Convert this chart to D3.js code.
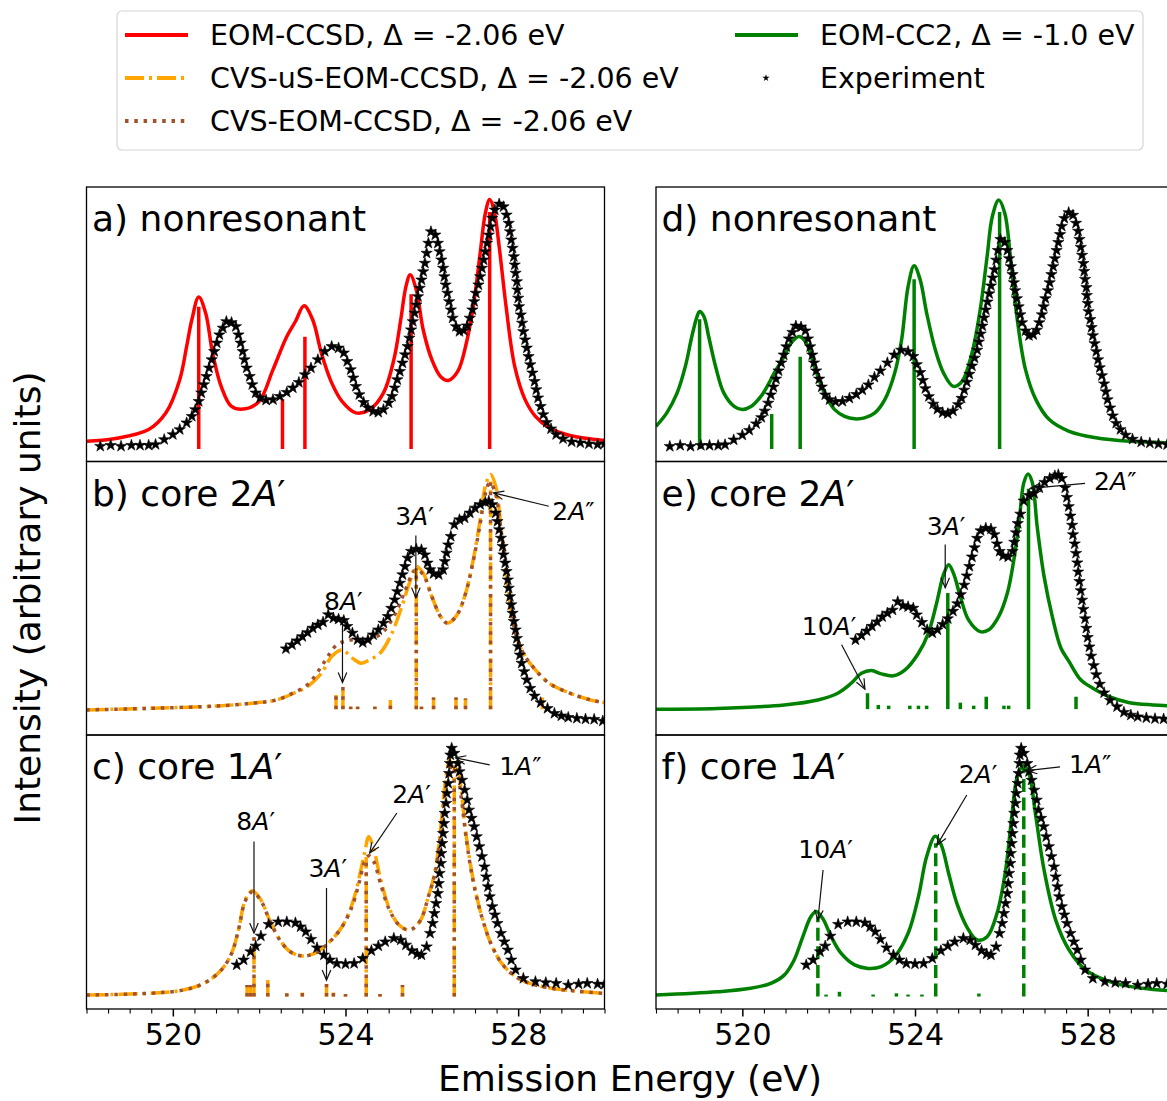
<!DOCTYPE html>
<html>
<head>
<meta charset="utf-8">
<script src="https://cdn.jsdelivr.net/npm/d3@7"></script>
<style>
  body { margin: 0; background: #fff; }
  svg { display: block; font-family: "DejaVu Sans", sans-serif; }
</style>
</head>
<body>
<svg id="chart" width="1167" height="1101"></svg>
<script>
// ---------- data (emission energy in eV, normalised intensity) ----------
const energyTicks = [520, 524, 528];
const minorStep = 0.5;

// nonresonant
const ccsdNonresCurve = [[518.0,0.031],[518.64,0.041],[519.44,0.078],[519.84,0.145],[520.16,0.278],[520.32,0.411],[520.44,0.518],[520.6,0.609],[520.76,0.545],[520.92,0.385],[521.12,0.251],[521.36,0.171],[521.68,0.161],[522.0,0.191],[522.32,0.318],[522.64,0.451],[522.84,0.511],[523.04,0.574],[523.24,0.518],[523.44,0.385],[523.68,0.265],[523.92,0.191],[524.24,0.145],[524.56,0.158],[524.88,0.225],[525.12,0.358],[525.28,0.518],[525.4,0.651],[525.5,0.698],[525.64,0.638],[525.8,0.478],[526.0,0.358],[526.2,0.291],[526.38,0.275],[526.6,0.311],[526.8,0.425],[526.96,0.571],[527.12,0.785],[527.24,0.945],[527.34,1.0],[527.44,0.958],[527.56,0.811],[527.72,0.571],[527.92,0.331],[528.16,0.198],[528.4,0.131],[528.72,0.085],[529.2,0.054],[530.0,0.034]];
const ccsdNonresSticks = [[520.6,0.57],[522.54,0.20],[523.06,0.45],[525.52,0.62],[527.34,0.95]];

const cc2NonresCurve = [[518.0,0.091],[518.25,0.145],[518.49,0.225],[518.68,0.331],[518.83,0.451],[518.95,0.531],[519.01,0.551],[519.11,0.531],[519.22,0.451],[519.38,0.331],[519.57,0.225],[519.81,0.171],[520.0,0.158],[520.19,0.169],[520.43,0.211],[520.62,0.265],[520.74,0.305],[520.97,0.371],[521.13,0.425],[521.32,0.451],[521.48,0.425],[521.67,0.331],[521.9,0.225],[522.14,0.158],[522.37,0.131],[522.6,0.121],[522.83,0.125],[523.07,0.145],[523.3,0.198],[523.53,0.305],[523.69,0.438],[523.84,0.651],[523.98,0.734],[524.12,0.678],[524.27,0.545],[524.47,0.398],[524.66,0.305],[524.89,0.251],[525.09,0.271],[525.32,0.385],[525.51,0.558],[525.67,0.771],[525.79,0.931],[525.94,0.998],[526.08,0.945],[526.21,0.771],[526.37,0.518],[526.56,0.318],[526.8,0.198],[527.11,0.118],[527.57,0.071],[528.19,0.045],[528.97,0.031],[529.86,0.025],[530.0,0.024]];
const cc2NonresSticks = [[519.01,0.52],[520.68,0.14],[521.34,0.37],[523.98,0.68],[525.96,0.95]];

const expNonres = [[518.32,0.011],[518.56,0.015],[518.80,0.011],[519.04,0.015],[519.24,0.015],[519.44,0.015],[519.60,0.018],[519.80,0.038],[520.00,0.058],[520.16,0.078],[520.32,0.105],[520.44,0.131],[520.52,0.158],[520.60,0.191],[520.66,0.225],[520.72,0.258],[520.78,0.291],[520.84,0.325],[520.90,0.358],[520.96,0.391],[521.02,0.425],[521.08,0.458],[521.16,0.485],[521.24,0.511],[521.36,0.507],[521.46,0.491],[521.52,0.458],[521.57,0.425],[521.62,0.391],[521.66,0.358],[521.71,0.325],[521.78,0.291],[521.84,0.258],[521.92,0.225],[522.02,0.205],[522.16,0.196],[522.32,0.198],[522.48,0.211],[522.64,0.227],[522.78,0.245],[522.92,0.267],[523.06,0.298],[523.20,0.325],[523.36,0.358],[523.52,0.391],[523.68,0.411],[523.84,0.405],[523.96,0.385],[524.04,0.351],[524.12,0.318],[524.18,0.285],[524.24,0.251],[524.32,0.218],[524.42,0.187],[524.52,0.165],[524.64,0.151],[524.76,0.147],[524.88,0.158],[525.00,0.185],[525.08,0.211],[525.14,0.245],[525.20,0.278],[525.26,0.311],[525.32,0.345],[525.38,0.378],[525.44,0.411],[525.48,0.445],[525.52,0.478],[525.56,0.511],[525.60,0.545],[525.64,0.578],[525.68,0.611],[525.72,0.645],[525.76,0.678],[525.80,0.711],[525.84,0.745],[525.88,0.785],[525.92,0.825],[525.98,0.871],[526.08,0.858],[526.14,0.825],[526.18,0.791],[526.22,0.758],[526.26,0.725],[526.29,0.691],[526.32,0.658],[526.36,0.625],[526.40,0.591],[526.44,0.558],[526.48,0.525],[526.56,0.491],[526.64,0.471],[526.74,0.475],[526.82,0.494],[526.88,0.525],[526.94,0.558],[526.98,0.591],[527.02,0.625],[527.08,0.658],[527.12,0.691],[527.16,0.725],[527.20,0.758],[527.24,0.791],[527.28,0.825],[527.32,0.858],[527.36,0.891],[527.40,0.925],[527.46,0.958],[527.56,0.982],[527.66,0.971],[527.73,0.938],[527.78,0.905],[527.81,0.871],[527.84,0.838],[527.87,0.805],[527.90,0.771],[527.92,0.738],[527.94,0.705],[527.97,0.671],[527.98,0.638],[528.00,0.605],[528.02,0.571],[528.06,0.538],[528.09,0.505],[528.12,0.471],[528.16,0.438],[528.20,0.405],[528.24,0.371],[528.28,0.338],[528.33,0.305],[528.38,0.271],[528.42,0.238],[528.46,0.205],[528.52,0.171],[528.58,0.138],[528.66,0.107],[528.76,0.081],[528.88,0.058],[529.04,0.041],[529.24,0.029],[529.44,0.025],[529.64,0.021],[529.84,0.018],[530.00,0.021]];

// core 2A'
const usCore2Curve = [[518.0,0.051],[519.44,0.057],[521.04,0.067],[521.84,0.078],[522.40,0.091],[522.80,0.118],[523.12,0.145],[523.44,0.198],[523.68,0.266],[523.92,0.292],[524.16,0.259],[524.36,0.239],[524.56,0.252],[524.80,0.279],[525.04,0.346],[525.28,0.454],[525.48,0.561],[525.64,0.628],[525.80,0.601],[526.00,0.507],[526.20,0.427],[526.36,0.400],[526.56,0.427],[526.76,0.507],[526.96,0.655],[527.12,0.816],[527.24,0.951],[527.36,0.998],[527.48,0.951],[527.60,0.789],[527.76,0.548],[527.92,0.373],[528.12,0.279],[528.40,0.212],[528.72,0.158],[529.20,0.118],[529.68,0.091],[530.0,0.080]];
const cvsCore2Curve = [[518.0,0.051],[519.44,0.057],[521.04,0.067],[521.84,0.078],[522.40,0.091],[522.80,0.120],[523.12,0.152],[523.44,0.225],[523.64,0.279],[523.80,0.313],[523.96,0.326],[524.16,0.333],[524.40,0.330],[524.64,0.339],[524.88,0.366],[525.12,0.427],[525.36,0.521],[525.52,0.588],[525.64,0.615],[525.80,0.595],[526.00,0.507],[526.20,0.427],[526.36,0.400],[526.56,0.427],[526.76,0.507],[526.96,0.650],[527.12,0.800],[527.24,0.920],[527.34,0.965],[527.46,0.930],[527.60,0.780],[527.76,0.548],[527.92,0.373],[528.12,0.279],[528.40,0.212],[528.72,0.158],[529.20,0.118],[529.68,0.091],[530.0,0.080]];
const usCore2Sticks = [[523.78,0.111],[523.94,0.145],[524.12,0.064],[524.28,0.064],[524.68,0.064],[525.04,0.091],[525.64,0.62],[525.76,0.064],[526.04,0.101],[526.56,0.101],[526.78,0.097],[527.36,0.97],[528.56,0.101]];
const cvsCore2Sticks = [[523.78,0.111],[523.94,0.145],[524.12,0.064],[524.28,0.064],[524.68,0.064],[525.04,0.091],[525.64,0.62],[525.76,0.064],[526.04,0.101],[526.56,0.101],[526.78,0.097],[527.36,0.97]];

const cc2Core2Curve = [[518.0,0.054],[519.42,0.057],[520.97,0.071],[521.75,0.091],[522.21,0.118],[522.52,0.158],[522.76,0.198],[522.99,0.209],[523.22,0.196],[523.50,0.188],[523.77,0.212],[524.08,0.279],[524.31,0.360],[524.50,0.480],[524.66,0.595],[524.78,0.635],[524.89,0.601],[525.05,0.507],[525.24,0.413],[525.51,0.366],[525.71,0.373],[525.94,0.427],[526.14,0.521],[526.29,0.655],[526.41,0.803],[526.52,0.964],[526.62,1.0],[526.72,0.964],[526.83,0.789],[526.99,0.588],[527.18,0.427],[527.38,0.300],[527.57,0.245],[527.84,0.172],[528.12,0.138],[528.50,0.104],[528.97,0.080],[529.51,0.071],[530.0,0.067]];
const cc2Core2Sticks = [[522.90,0.118],[523.15,0.071],[523.39,0.068],[523.88,0.068],[524.08,0.068],[524.27,0.068],[524.76,0.521],[525.05,0.080],[525.36,0.068],[525.65,0.104],[526.06,0.068],[526.17,0.068],[526.63,0.94],[527.73,0.104]];

const expCore2 = [[522.62,0.297],[522.76,0.313],[522.88,0.329],[523.00,0.346],[523.12,0.362],[523.24,0.380],[523.36,0.393],[523.48,0.404],[523.60,0.434],[523.72,0.420],[523.84,0.416],[523.96,0.411],[524.04,0.387],[524.16,0.360],[524.28,0.333],[524.40,0.322],[524.52,0.333],[524.64,0.353],[524.76,0.373],[524.88,0.400],[524.98,0.427],[525.06,0.460],[525.14,0.494],[525.20,0.527],[525.26,0.561],[525.32,0.595],[525.38,0.628],[525.44,0.662],[525.52,0.689],[525.64,0.698],[525.76,0.695],[525.84,0.675],[525.90,0.642],[525.96,0.615],[526.04,0.599],[526.16,0.595],[526.26,0.615],[526.30,0.648],[526.34,0.682],[526.38,0.715],[526.44,0.749],[526.52,0.796],[526.64,0.816],[526.76,0.823],[526.88,0.843],[527.00,0.863],[527.12,0.877],[527.24,0.886],[527.32,0.890],[527.40,0.877],[527.48,0.843],[527.52,0.809],[527.56,0.776],[527.60,0.742],[527.64,0.709],[527.66,0.675],[527.70,0.642],[527.73,0.608],[527.76,0.574],[527.78,0.541],[527.81,0.507],[527.84,0.474],[527.87,0.440],[527.90,0.407],[527.94,0.373],[527.97,0.339],[528.00,0.306],[528.04,0.272],[528.08,0.239],[528.14,0.205],[528.20,0.172],[528.28,0.138],[528.38,0.107],[528.52,0.080],[528.68,0.057],[528.84,0.037],[529.00,0.027],[529.16,0.021],[529.36,0.017],[529.56,0.014],[529.76,0.013],[529.96,0.006]];

// core 1A'
const usCore1Curve = [[518.0,0.006],[519.44,0.013],[520.24,0.026],[520.72,0.053],[521.12,0.106],[521.36,0.173],[521.52,0.267],[521.68,0.388],[521.84,0.425],[522.04,0.388],[522.24,0.307],[522.48,0.227],[522.72,0.180],[523.00,0.163],[523.28,0.173],[523.60,0.214],[523.92,0.280],[524.16,0.374],[524.32,0.481],[524.44,0.575],[524.54,0.642],[524.66,0.588],[524.80,0.481],[525.00,0.361],[525.24,0.287],[525.48,0.267],[525.72,0.301],[525.92,0.401],[526.08,0.508],[526.20,0.669],[526.30,0.843],[526.40,0.950],[526.48,0.977],[526.58,0.950],[526.68,0.830],[526.80,0.642],[526.96,0.468],[527.16,0.321],[527.40,0.200],[527.68,0.120],[528.08,0.066],[528.64,0.037],[529.28,0.023],[530.0,0.013]];
const cvsCore1Curve = [[518.0,0.006],[519.44,0.013],[520.24,0.026],[520.72,0.053],[521.12,0.106],[521.36,0.173],[521.52,0.267],[521.68,0.385],[521.84,0.420],[522.04,0.385],[522.24,0.307],[522.48,0.227],[522.72,0.180],[523.00,0.163],[523.28,0.173],[523.60,0.214],[523.92,0.280],[524.16,0.365],[524.32,0.460],[524.44,0.540],[524.54,0.565],[524.66,0.540],[524.80,0.460],[525.00,0.355],[525.24,0.287],[525.48,0.267],[525.72,0.301],[525.92,0.401],[526.08,0.500],[526.20,0.650],[526.30,0.810],[526.40,0.905],[526.48,0.930],[526.58,0.905],[526.68,0.800],[526.80,0.630],[526.96,0.460],[527.16,0.318],[527.40,0.200],[527.68,0.120],[528.08,0.066],[528.64,0.037],[529.28,0.023],[530.0,0.013]];
const core1Sticks = [[521.72,0.046],[521.80,0.046],[521.88,0.24],[522.20,0.066],[522.64,0.013],[523.00,0.016],[523.56,0.05],[523.72,0.016],[524.00,0.01],[524.48,0.56],[524.80,0.01],[525.32,0.046],[526.52,0.93]];

const cc2Core1Curve = [[518.0,0.006],[519.42,0.019],[520.19,0.033],[520.66,0.053],[520.97,0.086],[521.20,0.147],[521.40,0.240],[521.59,0.321],[521.71,0.341],[521.86,0.314],[522.06,0.240],[522.29,0.173],[522.60,0.127],[522.91,0.113],[523.22,0.120],[523.53,0.160],[523.84,0.254],[524.08,0.401],[524.27,0.562],[524.47,0.644],[524.61,0.608],[524.78,0.494],[524.97,0.374],[525.20,0.280],[525.44,0.227],[525.67,0.240],[525.90,0.334],[526.10,0.508],[526.25,0.736],[526.37,0.883],[526.52,0.930],[526.64,0.896],[526.80,0.722],[526.99,0.508],[527.26,0.307],[527.57,0.187],[527.96,0.106],[528.58,0.056],[529.28,0.033],[530.0,0.022]];
const cc2Core1Sticks = [[521.75,0.32],[521.94,0.008],[522.25,0.019],[523.03,0.008],[523.57,0.013],[523.84,0.008],[524.16,0.008],[524.48,0.615],[525.48,0.012],[526.52,0.92]];

const expCore1 = [[521.48,0.127],[521.64,0.147],[521.80,0.180],[521.92,0.203],[522.04,0.243],[522.22,0.290],[522.44,0.300],[522.64,0.300],[522.84,0.296],[522.96,0.280],[523.08,0.260],[523.20,0.230],[523.34,0.196],[523.50,0.167],[523.64,0.147],[523.80,0.133],[524.00,0.131],[524.20,0.133],[524.40,0.153],[524.60,0.184],[524.76,0.203],[524.92,0.220],[525.12,0.234],[525.28,0.227],[525.40,0.207],[525.54,0.184],[525.66,0.171],[525.76,0.167],[525.88,0.200],[525.96,0.254],[526.02,0.294],[526.06,0.334],[526.10,0.374],[526.14,0.414],[526.16,0.454],[526.18,0.495],[526.21,0.535],[526.22,0.575],[526.24,0.615],[526.26,0.655],[526.28,0.695],[526.30,0.736],[526.33,0.776],[526.35,0.816],[526.38,0.856],[526.40,0.896],[526.42,0.936],[526.43,0.970],[526.46,0.997],[526.52,0.977],[526.60,0.936],[526.64,0.903],[526.70,0.869],[526.76,0.829],[526.82,0.789],[526.86,0.749],[526.92,0.716],[526.98,0.682],[527.04,0.642],[527.10,0.602],[527.16,0.562],[527.22,0.521],[527.26,0.481],[527.30,0.441],[527.34,0.401],[527.40,0.361],[527.46,0.328],[527.52,0.294],[527.60,0.254],[527.68,0.220],[527.76,0.187],[527.84,0.147],[527.94,0.107],[528.12,0.073],[528.40,0.060],[528.64,0.056],[528.88,0.053],[529.16,0.046],[529.40,0.050],[529.60,0.053],[529.84,0.050],[530.00,0.049]];

// peak assignments: text position (tx, ty), arrow tail (sx, sy) and head (ex, ey)
const core2Notes = [
  {label: "8A′", tx: 523.95, ty: 0.454, sx: 523.93, sy: 0.413, ex: 523.93, ey: 0.161},
  {label: "3A′", tx: 525.60, ty: 0.796, sx: 525.63, sy: 0.752, ex: 525.63, ey: 0.502},
  {label: "2A″", tx: 529.28, ty: 0.816, sx: 528.71, sy: 0.870, ex: 527.43, ey: 0.924}
];
const core1Notes = [
  {label: "8A′", tx: 521.92, ty: 0.669, sx: 521.88, sy: 0.622, ex: 521.88, ey: 0.255},
  {label: "3A′", tx: 523.59, ty: 0.480, sx: 523.56, sy: 0.436, ex: 523.56, ey: 0.066},
  {label: "2A′", tx: 525.53, ty: 0.777, sx: 525.19, sy: 0.737, ex: 524.56, ey: 0.576},
  {label: "1A″", tx: 528.05, ty: 0.890, sx: 527.34, sy: 0.930, ex: 526.55, ey: 0.958}
];
const cc2Core2Notes = [
  {label: "10A′", tx: 522.01, ty: 0.353, sx: 522.30, sy: 0.313, ex: 522.84, ey: 0.134},
  {label: "3A′", tx: 524.72, ty: 0.756, sx: 524.70, sy: 0.716, ex: 524.70, ey: 0.542},
  {label: "2A″", tx: 528.64, ty: 0.937, sx: 527.94, sy: 0.962, ex: 526.67, ey: 0.942}
];
const cc2Core1Notes = [
  {label: "10A′", tx: 521.93, ty: 0.556, sx: 521.87, sy: 0.508, ex: 521.75, ey: 0.307},
  {label: "2A′", tx: 525.46, ty: 0.857, sx: 525.20, sy: 0.809, ex: 524.51, ey: 0.608},
  {label: "1A″", tx: 528.06, ty: 0.898, sx: 527.36, sy: 0.922, ex: 526.59, ey: 0.907}
];

const legendLabels = ["EOM-CCSD, Δ = -2.06 eV", "CVS-uS-EOM-CCSD, Δ = -2.06 eV", "CVS-EOM-CCSD, Δ = -2.06 eV", "EOM-CC2, Δ = -1.0 eV", "Experiment"];

// ---------- styles ----------
const RED = "#ff0000", ORANGE = "#ffa500", BROWN = "#a0522d", GREEN = "#008000";
const LW = 3.5;
const DASHDOT = "19,5,3,5", DOTTED = "3.5,5.8", DASHED = "13,5.6";

const cols = [{x0: 86.5, x1: 604.5}, {x0: 656, x1: 1174}];
const rows = [{y0: 187, y1: 461.5}, {y0: 461.5, y1: 735}, {y0: 735, y1: 1009}];
const xDomain = [518, 530];
const yDomain = [-0.05, 1.05];

const panels = [
  {col: 0, row: 0, title: "a) nonresonant",
   curves: [{data: ccsdNonresCurve, color: RED, dash: null}],
   sticks: [{data: ccsdNonresSticks, base: 0, color: RED, dash: null}],
   exp: expNonres, expScale: 1, notes: []},
  {col: 0, row: 1, title: "b) core 2A′",
   curves: [{data: usCore2Curve, color: ORANGE, dash: DASHDOT}, {data: cvsCore2Curve, color: BROWN, dash: DOTTED}],
   sticks: [{data: usCore2Sticks, base: 0.054, color: ORANGE, dash: DASHDOT}, {data: cvsCore2Sticks, base: 0.054, color: BROWN, dash: DOTTED}],
   exp: expCore2, expScale: 1, notes: core2Notes},
  {col: 0, row: 2, title: "c) core 1A′",
   curves: [{data: usCore1Curve, color: ORANGE, dash: DASHDOT}, {data: cvsCore1Curve, color: BROWN, dash: DOTTED}],
   sticks: [{data: core1Sticks, base: 0, color: ORANGE, dash: DASHDOT}, {data: core1Sticks, base: 0, color: BROWN, dash: DOTTED}],
   exp: expCore1, expScale: 1, notes: core1Notes},
  {col: 1, row: 0, title: "d) nonresonant",
   curves: [{data: cc2NonresCurve, color: GREEN, dash: null}],
   sticks: [{data: cc2NonresSticks, base: 0, color: GREEN, dash: null}],
   exp: expNonres, expScale: 0.965, notes: []},
  {col: 1, row: 1, title: "e) core 2A′",
   curves: [{data: cc2Core2Curve, color: GREEN, dash: null}],
   sticks: [{data: cc2Core2Sticks, base: 0.054, color: GREEN, dash: null}],
   exp: expCore2, expScale: 1.12, notes: cc2Core2Notes},
  {col: 1, row: 2, title: "f) core 1A′",
   curves: [{data: cc2Core1Curve, color: GREEN, dash: null}],
   sticks: [{data: cc2Core1Sticks, base: 0, color: GREEN, dash: DASHED}],
   exp: expCore1, expScale: 1, notes: cc2Core1Notes}
];

const svg = d3.select("#chart");
const starPath = d3.symbol().type(d3.symbolStar).size(40)();

// writes a label, setting the symmetry letter A in italics
function richText(sel, str) {
  for (const ch of str) {
    sel.append("tspan").text(ch).attr("font-style", ch === "A" ? "italic" : null);
  }
}

panels.forEach((p, i) => {
  const c = cols[p.col], r = rows[p.row];
  const x = d3.scaleLinear().domain(xDomain).range([c.x0, c.x1]);
  const y = d3.scaleLinear().domain(yDomain).range([r.y1, r.y0]);
  const g = svg.append("g");

  const clipId = "clip-" + i;
  svg.append("clipPath").attr("id", clipId).append("rect")
    .attr("x", c.x0).attr("y", r.y0).attr("width", c.x1 - c.x0).attr("height", r.y1 - r.y0);
  const plot = g.append("g").attr("clip-path", `url(#${clipId})`);

  const line = d3.line().x(d => x(d[0])).y(d => y(d[1])).curve(d3.curveCatmullRom.alpha(0.5));

  p.curves.forEach(cv => {
    plot.append("path").attr("d", line(cv.data))
      .attr("fill", "none").attr("stroke", cv.color).attr("stroke-width", LW)
      .attr("stroke-dasharray", cv.dash).attr("stroke-linejoin", "round");
  });

  p.sticks.forEach(st => {
    plot.append("g").selectAll("line").data(st.data).join("line")
      .attr("x1", d => x(d[0])).attr("x2", d => x(d[0]))
      .attr("y1", y(st.base)).attr("y2", d => y(d[1]))
      .attr("stroke", st.color).attr("stroke-width", LW)
      .attr("stroke-dasharray", st.dash);
  });

  plot.append("g").selectAll("path").data(p.exp).join("path")
    .attr("d", starPath)
    .attr("transform", d => `translate(${x(d[0])},${y(d[1] * p.expScale)})`)
    .attr("fill", "#000").attr("stroke", "#000").attr("stroke-width", 0.6);

  // assignments with arrows
  p.notes.forEach(n => {
    const sx = x(n.sx), sy = y(n.sy), ex = x(n.ex), ey = y(n.ey);
    g.append("line").attr("x1", sx).attr("y1", sy).attr("x2", ex).attr("y2", ey)
      .attr("stroke", "#111").attr("stroke-width", 1.2);
    const ang = Math.atan2(ey - sy, ex - sx), hl = 11, ha = 0.4;
    g.append("path")
      .attr("d", `M${ex - hl * Math.cos(ang - ha)},${ey - hl * Math.sin(ang - ha)}L${ex},${ey}L${ex - hl * Math.cos(ang + ha)},${ey - hl * Math.sin(ang + ha)}`)
      .attr("fill", "none").attr("stroke", "#111").attr("stroke-width", 1.2);
    const t = g.append("text").attr("x", x(n.tx)).attr("y", y(n.ty))
      .attr("text-anchor", "middle").attr("font-size", 25).attr("fill", "#000");
    richText(t, n.label);
  });

  const title = g.append("text").attr("x", c.x0 + 5.5).attr("y", r.y0 + 44)
    .attr("font-size", 36).attr("fill", "#000");
  richText(title, p.title);

  g.append("rect").attr("x", c.x0).attr("y", r.y0)
    .attr("width", c.x1 - c.x0).attr("height", r.y1 - r.y0)
    .attr("fill", "none").attr("stroke", "#000").attr("stroke-width", 1.3);

  if (p.row === 2) {
    const minor = d3.range(xDomain[0], xDomain[1] + 1e-9, minorStep).filter(v => !energyTicks.includes(v));
    const gm = g.append("g").attr("transform", `translate(0,${r.y1})`)
      .call(d3.axisBottom(x).tickValues(minor).tickSize(4.5).tickFormat(""));
    gm.select(".domain").remove();
    gm.selectAll("line").attr("stroke", "#000").attr("stroke-width", 1.1);
    const ga = g.append("g").attr("transform", `translate(0,${r.y1})`)
      .call(d3.axisBottom(x).tickValues(energyTicks).tickSize(7.5).tickPadding(7).tickFormat(d3.format("d")));
    ga.select(".domain").remove();
    ga.selectAll("line").attr("stroke", "#000").attr("stroke-width", 1.5);
    ga.selectAll("text").attr("font-size", 30).attr("font-family", '"DejaVu Sans", sans-serif').attr("fill", "#000");
  }
});

// axis titles
svg.append("text").attr("x", 630).attr("y", 1091).attr("text-anchor", "middle")
  .attr("font-size", 36).attr("fill", "#000").text("Emission Energy (eV)");
svg.append("text").attr("transform", "translate(40,598) rotate(-90)").attr("text-anchor", "middle")
  .attr("font-size", 36).attr("fill", "#000").text("Intensity (arbitrary units)");

// legend
const leg = svg.append("g");
leg.append("rect").attr("x", 117).attr("y", 11).attr("width", 1026).attr("height", 139).attr("rx", 5)
  .attr("fill", "#fff").attr("stroke", "#d6d6d6").attr("stroke-width", 1.2);
const legendItems = [
  {label: legendLabels[0], color: RED, dash: null, hx: 125, ty: 35},
  {label: legendLabels[1], color: ORANGE, dash: DASHDOT, hx: 125, ty: 78},
  {label: legendLabels[2], color: BROWN, dash: DOTTED, hx: 125, ty: 121},
  {label: legendLabels[3], color: GREEN, dash: null, hx: 735, ty: 35},
  {label: legendLabels[4], color: null, dash: null, hx: 735, ty: 78}
];
legendItems.forEach(it => {
  if (it.color) {
    leg.append("line").attr("x1", it.hx).attr("x2", it.hx + 63).attr("y1", it.ty).attr("y2", it.ty)
      .attr("stroke", it.color).attr("stroke-width", 4.2).attr("stroke-dasharray", it.dash);
  } else {
    leg.append("path").attr("d", d3.symbol().type(d3.symbolStar).size(16)())
      .attr("transform", `translate(${it.hx + 31},${it.ty})`).attr("fill", "#000");
  }
  leg.append("text").attr("x", it.hx + 85).attr("y", it.ty + 10)
    .attr("font-size", 28.5).attr("fill", "#000").text(it.label);
});
</script>
</body>
</html>
